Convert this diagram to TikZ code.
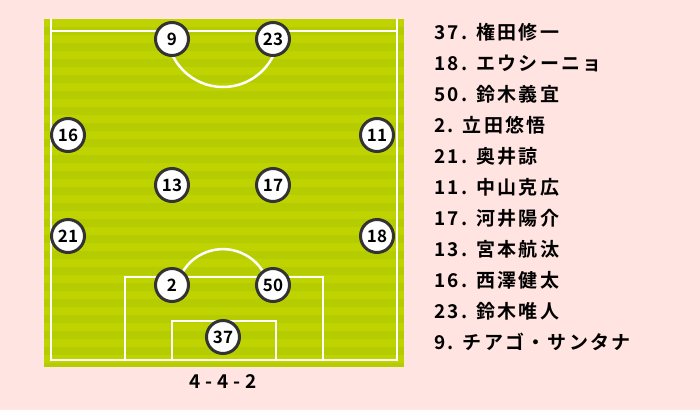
\documentclass[tikz,border=0pt]{standalone}
\usepackage{fontspec}
\setmainfont{Noto Sans CJK JP}[BoldFont={Noto Sans CJK JP Bold}]
\newfontfamily\listfont{Noto Sans CJK JP Bold}[LetterSpace=12]
\newfontfamily\formfont{Noto Sans CJK JP Bold}[LetterSpace=25]
\newcommand{\gap}{\hspace{9pt}}
\usepackage{tikz}
\usetikzlibrary{positioning}
\definecolor{bgpink}{HTML}{FFE4E1}
\definecolor{pitchA}{HTML}{B5CC00}
\definecolor{pitchB}{HTML}{BFD300}
\definecolor{ringgray}{HTML}{333333}

\begin{document}
\begin{tikzpicture}[x=1pt,y=-1pt,
  player/.style={circle,draw=ringgray,line width=3pt,fill=white,minimum size=33pt,inner sep=0pt,font=\fontsize{17}{17}\selectfont\bfseries},
  pline/.style={draw=white,line width=2.5pt},
  entry/.style={anchor=west,inner sep=0pt,font=\fontsize{19}{19}\listfont}]
  \useasboundingbox[fill=bgpink] (0,0) rectangle (700,410);
  % pitch
  \fill[pitchA] (44,19) rectangle (404,367);
  \foreach \y in {19,35,...,360}
    \fill[pitchB] (44,\y) rectangle (404,\y+8);
  \begin{scope}[pline]
    \draw (51,19) -- (51,360) -- (397,360) -- (397,19);
    \draw (51,31) -- (397,31);
    \draw (279,31) arc[start angle=0,end angle=180,radius=56];
    \draw (125,360) -- (125,277) -- (323,277) -- (323,360);
    \draw (172,360) -- (172,321) -- (276,321) -- (276,360);
    \draw (180,277) arc[start angle=-156,end angle=-24,radius=47];
  \end{scope}
  % players
  \node[player] (p9) at (172,39) {9};
  \node[player] (p23) at (273,39) {23};
  \node[player] (p16) at (68,135) {16};
  \node[player] (p11) at (377,135) {11};
  \node[player] (p13) at (172,185) {13};
  \node[player] (p17) at (273,185) {17};
  \node[player] (p21) at (68,236) {21};
  \node[player] (p18) at (377,236) {18};
  \node[player] (p2) at (172,285) {2};
  \node[player] (p50) at (273,285) {50};
  \node[player] (p37) at (223,337) {37};
  \node[font=\fontsize{19}{19}\formfont] (formation) at (223,382) {4-4-2};
  % names
  \node[entry] (n37) at (434,32) {37.\gap 権田修一};
  \node[entry] (n18) at (434,63) {18.\gap エウシーニョ};
  \node[entry] (n50) at (434,94) {50.\gap 鈴木義宜};
  \node[entry] (n2) at (434,125) {2.\gap 立田悠悟};
  \node[entry] (n21) at (434,156) {21.\gap 奥井諒};
  \node[entry] (n11) at (434,187) {11.\gap 中山克広};
  \node[entry] (n17) at (434,218) {17.\gap 河井陽介};
  \node[entry] (n13) at (434,249) {13.\gap 宮本航汰};
  \node[entry] (n16) at (434,280) {16.\gap 西澤健太};
  \node[entry] (n23) at (434,311) {23.\gap 鈴木唯人};
  \node[entry] (n9) at (434,342) {9.\gap チアゴ・サンタナ};
\end{tikzpicture}
\end{document}
